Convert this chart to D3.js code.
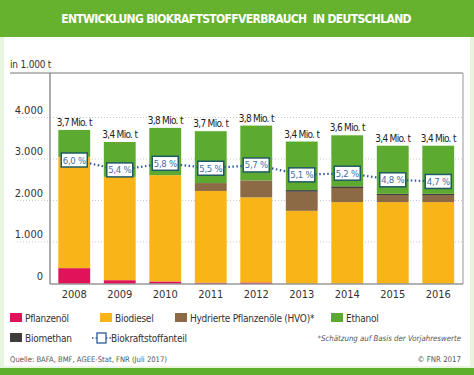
<!DOCTYPE html>
<html>
<head>
<meta charset="utf-8">
<script src="https://cdn.jsdelivr.net/npm/d3@7"></script>
<style>
  body { margin: 0; background: #fff; }
  svg { display: block; font-family: "Liberation Sans Narrow", "DejaVu Sans Condensed", "Roboto Condensed", sans-serif; }
</style>
</head>
<body>
<div id="chart"></div>
<script>
// years and series (1.000 t)
var years = ["2008", "2009", "2010", "2011", "2012", "2013", "2014", "2015", "2016"];
var pflanzenoel = [370, 80, 50, 20, 25, 1, 1, 1, 1];
var biodiesel = [2680, 2490, 2560, 2210, 2050, 1750, 1960, 1960, 1960];
var hvo = [0, 0, 0, 190, 410, 460, 340, 170, 170];
var biomethan = [0, 0, 0, 0, 0, 40, 40, 30, 30];
var ethanol = [650, 840, 1140, 1250, 1320, 1170, 1230, 1160, 1160];
var totalLabels = ["3,7 Mio. t", "3,4 Mio. t", "3,8 Mio. t", "3,7 Mio. t", "3,8 Mio. t", "3,4 Mio. t", "3,6 Mio. t", "3,4 Mio. t", "3,4 Mio. t"];
var anteil = [6.0, 5.4, 5.8, 5.5, 5.7, 5.1, 5.2, 4.8, 4.7];
var yTicks = [0, 1000, 2000, 3000, 4000];

function init() {
    var W = 474, H = 375;
    var svg = d3.select("#chart").append("svg").attr("width", W).attr("height", H);

    // frame / header
    svg.append("rect").attr("x", 0).attr("y", 0).attr("width", W).attr("height", H).attr("fill", "#e6f5dc");
    svg.append("rect").attr("x", 4).attr("y", 0).attr("width", 466).attr("height", 366).attr("fill", "#fff");
    svg.append("rect").attr("x", 0).attr("y", 0).attr("width", W).attr("height", 37).attr("fill", "#66b22e");
    svg.append("rect").attr("x", 0).attr("y", 368).attr("width", W).attr("height", 7).attr("fill", "#5fae2c");
    svg.append("text").attr("x", 236).attr("y", 23).attr("text-anchor", "middle")
        .attr("fill", "#fff").attr("font-size", 12).attr("font-weight", "bold").attr("letter-spacing", -0.65)
        .style("white-space", "pre")
        .text("ENTWICKLUNG BIOKRAFTSTOFFVERBRAUCH  IN DEUTSCHLAND");

    var x = d3.scaleBand().domain(years).range([51.5, 461]).paddingInner(0.3).paddingOuter(0.15);
    var y = d3.scaleLinear().domain([0, 5000]).range([283.5, 76]);
    var p = d3.scaleLinear().domain([0, 10]).range([259, 94]);

    // unit + axis frame
    svg.append("text").attr("x", 10).attr("y", 68).attr("font-size", 10).attr("letter-spacing", -0.2).attr("fill", "#333").text("in 1.000 t");
    svg.append("line").attr("x1", 10).attr("x2", 463).attr("y1", 73).attr("y2", 73).attr("stroke", "#777").attr("stroke-width", 1);
    svg.append("line").attr("x1", 463).attr("x2", 463).attr("y1", 73).attr("y2", 284).attr("stroke", "#999").attr("stroke-width", 1);

    // grid + y labels
    var g = svg.append("g");
    g.selectAll("line.grid").data(yTicks.slice(1)).enter().append("line")
        .attr("x1", 17).attr("x2", 463)
        .attr("y1", function(d) { return y(d); }).attr("y2", function(d) { return y(d); })
        .attr("stroke", "#c8c8c8").attr("stroke-dasharray", "1,2");
    g.selectAll("text.yl").data(yTicks).enter().append("text")
        .attr("x", 43).attr("y", function(d) { return y(d) - 4; })
        .attr("text-anchor", "end").attr("font-size", 11).attr("fill", "#333")
        .text(function(d) { return d3.format(",")(d).replace(",", "."); });

    // stacked bars
    var keys = ["pflanzenoel", "biodiesel", "hvo", "biomethan", "ethanol"];
    var colors = { pflanzenoel: "#e2125a", biodiesel: "#f9b417", hvo: "#8b6a45", biomethan: "#403c3a", ethanol: "#5cab30" };
    var rows = years.map(function(yr, i) {
        return { year: yr, pflanzenoel: pflanzenoel[i], biodiesel: biodiesel[i], hvo: hvo[i], biomethan: biomethan[i], ethanol: ethanol[i] };
    });
    var stack = d3.stack().keys(keys)(rows);
    svg.selectAll("g.layer").data(stack).enter().append("g")
        .attr("fill", function(d) { return colors[d.key]; })
        .selectAll("rect").data(function(d) { return d; }).enter().append("rect")
        .attr("x", function(d) { return x(d.data.year); })
        .attr("width", x.bandwidth())
        .attr("y", function(d) { return y(d[1]); })
        .attr("height", function(d) { return y(d[0]) - y(d[1]); });

    // axes lines
    svg.append("line").attr("x1", 50).attr("x2", 50).attr("y1", 73).attr("y2", 284).attr("stroke", "#777").attr("stroke-width", 1.2);
    svg.append("line").attr("x1", 50).attr("x2", 463).attr("y1", 284).attr("y2", 284).attr("stroke", "#666").attr("stroke-width", 1.2);

    // year labels
    svg.selectAll("text.year").data(years).enter().append("text")
        .attr("x", function(d) { return x(d) + x.bandwidth() / 2; }).attr("y", 298)
        .attr("text-anchor", "middle").attr("font-size", 11).attr("fill", "#333")
        .text(function(d) { return d; });

    // total labels
    svg.selectAll("text.tot").data(rows).enter().append("text")
        .attr("x", function(d) { return x(d.year) + x.bandwidth() / 2; })
        .attr("y", function(d) { return y(d.pflanzenoel + d.biodiesel + d.hvo + d.biomethan + d.ethanol) - 4; })
        .attr("text-anchor", "middle").attr("font-size", 10).attr("fill", "#222").attr("letter-spacing", -0.7)
        .text(function(d, i) { return totalLabels[i]; });

    // share line
    var line = d3.line()
        .x(function(d, i) { return x(years[i]) + x.bandwidth() / 2; })
        .y(function(d) { return p(d); });
    svg.append("path").datum(anteil).attr("d", line).attr("fill", "none")
        .attr("stroke", "#2d5a96").attr("stroke-width", 2.2).attr("stroke-dasharray", "1.5,2.5");
    var boxes = svg.selectAll("g.box").data(anteil).enter().append("g")
        .attr("transform", function(d, i) { return "translate(" + (x(years[i]) + x.bandwidth() / 2) + "," + p(d) + ")"; });
    boxes.append("rect").attr("x", -13).attr("y", -7).attr("width", 26).attr("height", 14)
        .attr("fill", "#fff").attr("stroke", "#1f5b63").attr("stroke-width", 1.5);
    boxes.append("text").attr("y", 3.5).attr("text-anchor", "middle").attr("font-size", 9.5).attr("letter-spacing", -0.3).attr("fill", "#3f6fa0")
        .text(function(d) { return d.toFixed(1).replace(".", ",") + " %"; });

    // legend
    var legend = [
        { label: "Pflanzenöl", color: colors.pflanzenoel, x: 10, y: 318 },
        { label: "Biodiesel", color: colors.biodiesel, x: 100, y: 318 },
        { label: "Hydrierte Pflanzenöle (HVO)*", color: colors.hvo, x: 175, y: 318 },
        { label: "Ethanol", color: colors.ethanol, x: 331, y: 318 },
        { label: "Biomethan", color: colors.biomethan, x: 10, y: 338 }
    ];
    var lg = svg.selectAll("g.lg").data(legend).enter().append("g")
        .attr("transform", function(d) { return "translate(" + d.x + "," + d.y + ")"; });
    lg.append("rect").attr("x", 0).attr("y", -5).attr("width", 12).attr("height", 9).attr("fill", function(d) { return d.color; });
    lg.append("text").attr("x", 15).attr("y", 4).attr("font-size", 10).attr("letter-spacing", -0.25).attr("fill", "#333").text(function(d) { return d.label; });

    var ls = svg.append("g").attr("transform", "translate(92,338)");
    ls.append("line").attr("x1", 0).attr("x2", 19).attr("y1", 0).attr("y2", 0)
        .attr("stroke", "#2d5a96").attr("stroke-width", 1.5).attr("stroke-dasharray", "1.5,2");
    ls.append("rect").attr("x", 5).attr("y", -5).attr("width", 9).attr("height", 10).attr("fill", "#fff").attr("stroke", "#2d5a96").attr("stroke-width", 1.3);
    ls.append("text").attr("x", 19).attr("y", 4).attr("font-size", 10).attr("letter-spacing", -0.25).attr("fill", "#333").text("Biokraftstoffanteil");

    svg.append("text").attr("x", 461).attr("y", 341).attr("text-anchor", "end")
        .attr("font-size", 7.8).attr("font-style", "italic").attr("fill", "#555")
        .text("*Schätzung auf Basis der Vorjahreswerte");
    svg.append("text").attr("x", 10).attr("y", 362).attr("font-size", 7.6).attr("fill", "#555")
        .text("Quelle: BAFA, BMF, AGEE-Stat, FNR (Juli 2017)");
    svg.append("text").attr("x", 461).attr("y", 362).attr("text-anchor", "end").attr("font-size", 7.8).attr("fill", "#555")
        .text("© FNR 2017");
}

window.onload = init;
</script>
</body>
</html>
